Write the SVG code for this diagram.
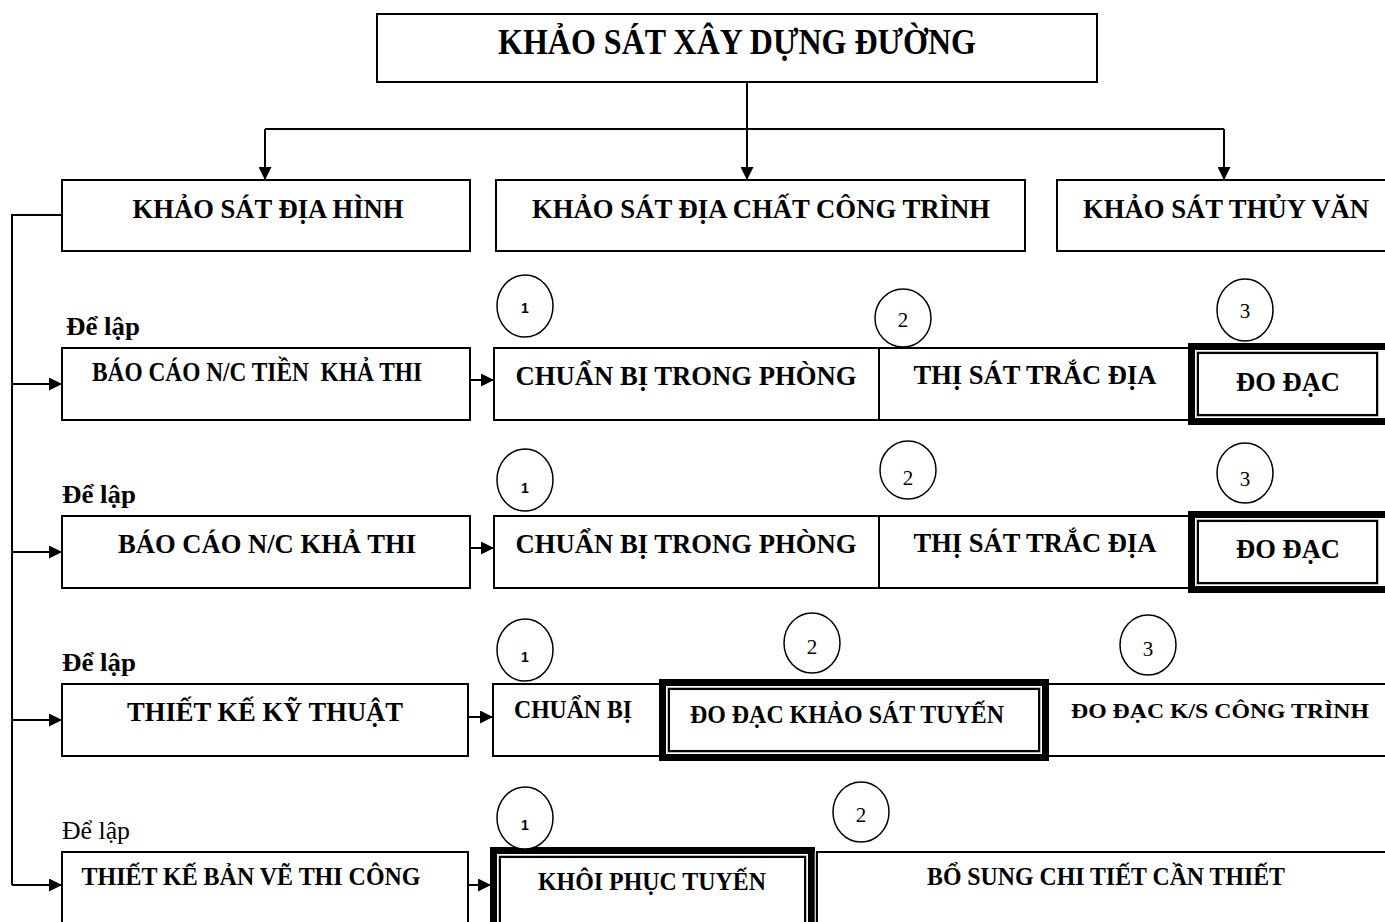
<svg xmlns="http://www.w3.org/2000/svg" width="1385" height="922" viewBox="0 0 1385 922">
<style>
.box{fill:#fff;stroke:#000;stroke-width:2}
.thick{fill:none;stroke:#000;stroke-width:7}
.thin{fill:none;stroke:#000;stroke-width:2}
.gap{fill:none;stroke:#bbb;stroke-width:1}
.t{font-family:"Liberation Serif","Times New Roman",serif;font-weight:bold;fill:#000}
.r{font-family:"Liberation Serif","Times New Roman",serif;fill:#000}
.n1{font-family:"Liberation Sans",Arial,sans-serif;font-weight:bold;font-size:14px;fill:#000}
.n{font-family:"Liberation Serif","Times New Roman",serif;font-size:21px;fill:#000}
.c{fill:#fff;stroke:#000;stroke-width:1.5}
.ln{fill:none;stroke:#000;stroke-width:2}
</style>
<defs>
<marker id="ah" viewBox="0 0 13 13" refX="13" refY="6.5" markerWidth="13" markerHeight="13" markerUnits="userSpaceOnUse" orient="auto">
<path d="M0,0 L13,6.5 L0,13 Z" fill="#000"/>
</marker>
</defs>
<rect width="1385" height="922" fill="#fff"/>

<g id="connectors">
<path class="ln" d="M747,82 V180" marker-end="url(#ah)"/>
<path class="ln" d="M265,129 H1224"/>
<path class="ln" d="M265,129 V180" marker-end="url(#ah)"/>
<path class="ln" d="M1224,129 V180" marker-end="url(#ah)"/>
<path class="ln" d="M62,215 H12 V885"/>
<path class="ln" d="M12,384 H62" marker-end="url(#ah)"/>
<path class="ln" d="M12,552 H62" marker-end="url(#ah)"/>
<path class="ln" d="M12,720 H62" marker-end="url(#ah)"/>
<path class="ln" d="M12,885 H62" marker-end="url(#ah)"/>
<path class="ln" d="M470,380 H494" marker-end="url(#ah)"/>
<path class="ln" d="M470,548 H494" marker-end="url(#ah)"/>
<path class="ln" d="M468,717 H493" marker-end="url(#ah)"/>
<path class="ln" d="M468,885 H491" marker-end="url(#ah)"/>
</g>

<g id="root">
<rect class="box" x="377" y="14" width="720" height="68"/>
<text class="t" x="737" y="54" font-size="35" text-anchor="middle" textLength="478" lengthAdjust="spacingAndGlyphs">KHẢO SÁT XÂY DỰNG ĐƯỜNG</text>
</g>

<g id="ks-dia-hinh">
<rect class="box" x="62" y="180" width="408" height="71"/>
<text class="t" x="268" y="218" font-size="28" text-anchor="middle" textLength="271" lengthAdjust="spacingAndGlyphs">KHẢO SÁT ĐỊA HÌNH</text>
</g>
<g id="ks-dia-chat">
<rect class="box" x="496" y="180" width="529" height="71"/>
<text class="t" x="761" y="218" font-size="28" text-anchor="middle" textLength="458" lengthAdjust="spacingAndGlyphs">KHẢO SÁT ĐỊA CHẤT CÔNG TRÌNH</text>
</g>
<g id="ks-thuy-van">
<path class="box" d="M1385,180 H1057 V251 H1385"/>
<text class="t" x="1226" y="218" font-size="28" text-anchor="middle" textLength="286" lengthAdjust="spacingAndGlyphs">KHẢO SÁT THỦY VĂN</text>
</g>

<!-- Row 1 -->
<g id="label1"><text class="t" x="66" y="335" font-size="25" textLength="74" lengthAdjust="spacingAndGlyphs">Để lập</text></g>
<g id="bc-tien-kha-thi">
<rect class="box" x="62" y="348" width="408" height="72"/>
<text class="t" x="92" y="381" font-size="27" textLength="330" lengthAdjust="spacingAndGlyphs" xml:space="preserve">BÁO CÁO N/C TIỀN  KHẢ THI</text>
</g>
<g id="r1-chuan-bi">
<rect class="box" x="494" y="348" width="696" height="72"/>
<line class="ln" x1="879" y1="348" x2="879" y2="420"/>
<text class="t" x="686" y="385" font-size="28" text-anchor="middle" textLength="341" lengthAdjust="spacingAndGlyphs">CHUẨN BỊ TRONG PHÒNG</text>
</g>
<g id="r1-thi-sat">
<text class="t" x="1035" y="384" font-size="28" text-anchor="middle" textLength="243" lengthAdjust="spacingAndGlyphs">THỊ SÁT TRẮC ĐỊA</text>
</g>
<g id="r1-do-dac">
<rect x="1191" y="346" width="194" height="76" fill="#fff"/>
<path class="thick" d="M1385,346.5 H1191.5 V421.5 H1385"/>
<rect class="gap" x="1196.5" y="351.5" width="182" height="65"/>
<rect class="thin" x="1198" y="353" width="179" height="62"/>
<text class="t" x="1288" y="391" font-size="28" text-anchor="middle" textLength="104" lengthAdjust="spacingAndGlyphs">ĐO ĐẠC</text>
</g>
<g id="r1-c1"><ellipse class="c" cx="525" cy="306" rx="28" ry="31"/><text class="n1" x="525" y="313" text-anchor="middle">1</text></g>
<g id="r1-c2"><ellipse class="c" cx="903" cy="318" rx="28" ry="29"/><text class="n" x="903" y="327" text-anchor="middle">2</text></g>
<g id="r1-c3"><ellipse class="c" cx="1245" cy="310" rx="28" ry="31"/><text class="n" x="1245" y="318" text-anchor="middle">3</text></g>

<!-- Row 2 -->
<g id="label2"><text class="t" x="62" y="503" font-size="25" textLength="74" lengthAdjust="spacingAndGlyphs">Để lập</text></g>
<g id="bc-kha-thi">
<rect class="box" x="62" y="516" width="408" height="72"/>
<text class="t" x="267" y="553" font-size="28" text-anchor="middle" textLength="298" lengthAdjust="spacingAndGlyphs">BÁO CÁO N/C KHẢ THI</text>
</g>
<g id="r2-chuan-bi">
<rect class="box" x="494" y="516" width="696" height="72"/>
<line class="ln" x1="879" y1="516" x2="879" y2="588"/>
<text class="t" x="686" y="553" font-size="28" text-anchor="middle" textLength="341" lengthAdjust="spacingAndGlyphs">CHUẨN BỊ TRONG PHÒNG</text>
</g>
<g id="r2-thi-sat">
<text class="t" x="1035" y="552" font-size="28" text-anchor="middle" textLength="243" lengthAdjust="spacingAndGlyphs">THỊ SÁT TRẮC ĐỊA</text>
</g>
<g id="r2-do-dac">
<rect x="1191" y="514" width="194" height="76" fill="#fff"/>
<path class="thick" d="M1385,514.5 H1191.5 V589.5 H1385"/>
<rect class="gap" x="1196.5" y="519.5" width="182" height="65"/>
<rect class="thin" x="1198" y="521" width="179" height="62"/>
<text class="t" x="1288" y="558" font-size="28" text-anchor="middle" textLength="104" lengthAdjust="spacingAndGlyphs">ĐO ĐẠC</text>
</g>
<g id="r2-c1"><ellipse class="c" cx="525" cy="480" rx="28" ry="31"/><text class="n1" x="525" y="493" text-anchor="middle">1</text></g>
<g id="r2-c2"><ellipse class="c" cx="908" cy="470" rx="28" ry="29"/><text class="n" x="908" y="485" text-anchor="middle">2</text></g>
<g id="r2-c3"><ellipse class="c" cx="1245" cy="473" rx="28" ry="30"/><text class="n" x="1245" y="486" text-anchor="middle">3</text></g>

<!-- Row 3 -->
<g id="label3"><text class="t" x="62" y="671" font-size="25" textLength="74" lengthAdjust="spacingAndGlyphs">Để lập</text></g>
<g id="tk-ky-thuat">
<rect class="box" x="62" y="684" width="406" height="72"/>
<text class="t" x="265" y="721" font-size="28" text-anchor="middle" textLength="276" lengthAdjust="spacingAndGlyphs">THIẾT KẾ KỸ THUẬT</text>
</g>
<g id="r3-chuan-bi">
<path class="box" d="M1385,684 H493 V756 H1385"/>
<text class="t" x="573" y="718" font-size="26" text-anchor="middle" textLength="118" lengthAdjust="spacingAndGlyphs">CHUẨN BỊ</text>
</g>
<g id="r3-do-dac-tuyen">
<rect x="662" y="682" width="384" height="76" fill="#fff"/>
<rect class="thick" x="662.5" y="682.5" width="383" height="75"/>
<rect class="gap" x="667.5" y="687.5" width="373" height="65"/>
<rect class="thin" x="669" y="689" width="370" height="62"/>
<text class="t" x="847" y="723" font-size="26" text-anchor="middle" textLength="314" lengthAdjust="spacingAndGlyphs">ĐO ĐẠC KHẢO SÁT TUYẾN</text>
</g>
<g id="r3-cong-trinh">
<text class="t" x="1220" y="718" font-size="22" text-anchor="middle" textLength="298" lengthAdjust="spacingAndGlyphs">ĐO ĐẠC K/S CÔNG TRÌNH</text>
</g>
<g id="r3-c1"><ellipse class="c" cx="525" cy="650" rx="28" ry="31"/><text class="n1" x="525" y="662" text-anchor="middle">1</text></g>
<g id="r3-c2"><ellipse class="c" cx="812" cy="643" rx="28" ry="30"/><text class="n" x="812" y="654" text-anchor="middle">2</text></g>
<g id="r3-c3"><ellipse class="c" cx="1148" cy="645" rx="28" ry="30"/><text class="n" x="1148" y="656" text-anchor="middle">3</text></g>

<!-- Row 4 -->
<g id="label4"><text class="r" x="62" y="839" font-size="25" textLength="68" lengthAdjust="spacingAndGlyphs">Để lập</text></g>
<g id="tk-ban-ve">
<path class="box" d="M62,922 V852 H468 V922"/>
<text class="t" x="251" y="885" font-size="26" text-anchor="middle" textLength="339" lengthAdjust="spacingAndGlyphs">THIẾT KẾ BẢN VẼ THI CÔNG</text>
</g>
<g id="r4-khoi-phuc">
<rect x="493" y="850" width="319" height="72" fill="#fff"/>
<path class="thick" d="M493.5,922 V850.5 H811.5 V922"/>
<path class="gap" d="M498.5,922 V855.5 H806.5 V922"/>
<path class="thin" d="M500,922 V857 H805 V922"/>
<text class="t" x="652" y="890" font-size="26" text-anchor="middle" textLength="228" lengthAdjust="spacingAndGlyphs">KHÔI PHỤC TUYẾN</text>
</g>
<g id="r4-bo-sung">
<path class="ln" d="M817,922 V852 H1385"/>
<line x1="815" y1="852" x2="815" y2="922" stroke="#999" stroke-width="1"/>
<text class="t" x="1106" y="885" font-size="26" text-anchor="middle" textLength="358" lengthAdjust="spacingAndGlyphs">BỔ SUNG CHI TIẾT CẦN THIẾT</text>
</g>
<g id="r4-c1"><ellipse class="c" cx="525" cy="818" rx="28" ry="31"/><text class="n1" x="525" y="830" text-anchor="middle">1</text></g>
<g id="r4-c2"><ellipse class="c" cx="861" cy="812" rx="28" ry="30"/><text class="n" x="861" y="822" text-anchor="middle">2</text></g>
</svg>
